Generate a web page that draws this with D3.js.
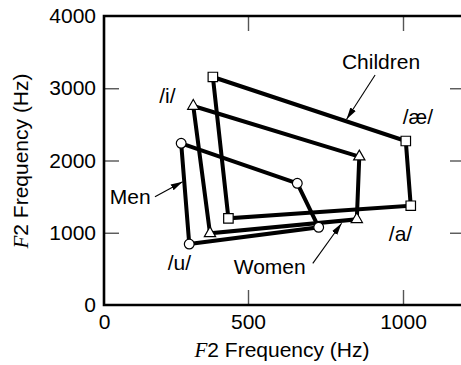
<!DOCTYPE html>
<html>
<head>
<meta charset="utf-8">
<script src="https://cdn.jsdelivr.net/npm/d3@7"></script>
<style>
  body { margin: 0; background: #fff; }
  svg { display: block; }
  text { font-family: "Liberation Sans", Arial, Helvetica, sans-serif; fill: #000; }
</style>
</head>
<body>
<div id="chart"></div>
<script>
// vowel order around each quadrilateral: /i/ -> /æ/ -> /a/ -> /u/
var vowels = ["i", "æ", "a", "u"];

// x values (as labelled on the horizontal axis) and F2 values
var childrenX = [378, 1009, 1025, 432];
var childrenY = [3156, 2270, 1374, 1200];
var womenX = [310, 859, 851, 368];
var womenY = [2754, 2053, 1186, 992];
var menX = [268, 659, 728, 296];
var menY = [2238, 1684, 1075, 844];

var xTicks = [0, 500, 1000];
var yTicks = [0, 1000, 2000, 3000, 4000];

// vowel labels, in data units
var vowelLabels = [
    { text: "/i/", x: 220, y: 2800 },
    { text: "/æ/", x: 1048, y: 2505 },
    { text: "/a/", x: 992, y: 890 },
    { text: "/u/", x: 262, y: 484 }
];

// group labels with their arrows, in data units
var groupLabels = [
    { text: "Children", x: 929, y: 3266, x1: 910, y1: 3183, x2: 818, y2: 2570 },
    { text: "Men", x: 91, y: 1398, x1: 177, y1: 1499, x2: 273, y2: 1707 },
    { text: "Women", x: 570, y: 425, x1: 709, y1: 577, x2: 802, y2: 1131 }
];

var width = 461, height = 365;
var plotLeft = 104, plotTop = 16, plotBottom = 305;

var svg = d3.select("#chart")
    .append("svg")
    .attr("width", width)
    .attr("height", height);

// the printed axis is not evenly spaced, so use a polylinear scale
var x = d3.scaleLinear()
    .domain([0, 500, 1200])
    .range([plotLeft, 248, 465]);

var y = d3.scaleLinear()
    .domain([0, 4000])
    .range([plotBottom, plotTop]);

var defs = svg.append("defs");
defs.append("marker")
    .attr("id", "head")
    .attr("viewBox", "0 0 12 8")
    .attr("refX", 12)
    .attr("refY", 4)
    .attr("markerWidth", 12)
    .attr("markerHeight", 8)
    .attr("markerUnits", "userSpaceOnUse")
    .attr("orient", "auto")
    .append("path")
    .attr("d", "M0,0.8 L12,4 L0,7.2 Z")
    .attr("fill", "#000");

// tick marks (inward)
var tickColor = "#555";
var fmt = d3.format("d");
var xAxisB = svg.append("g")
    .attr("transform", "translate(0," + plotBottom + ")")
    .call(d3.axisBottom(x).tickValues(xTicks).tickSizeInner(-15).tickSizeOuter(0).tickPadding(9).tickFormat(fmt));
var xAxisT = svg.append("g")
    .attr("transform", "translate(0," + plotTop + ")")
    .call(d3.axisTop(x).tickValues([500, 1000]).tickSizeInner(-15).tickSizeOuter(0).tickFormat(""));
var yAxisL = svg.append("g")
    .attr("transform", "translate(" + plotLeft + ",0)")
    .call(d3.axisLeft(y).tickValues(yTicks).tickSizeInner(-15).tickSizeOuter(0).tickPadding(8).tickFormat(fmt));
var yAxisR = svg.append("g")
    .attr("transform", "translate(" + x(1200) + ",0)")
    .call(d3.axisRight(y).tickValues([1000, 2000, 3000]).tickSizeInner(-15).tickSizeOuter(0).tickFormat(""));

[xAxisB, xAxisT, yAxisL, yAxisR].forEach(function (g) {
    g.select(".domain").remove();
    g.selectAll(".tick line").attr("stroke", tickColor).attr("stroke-width", 1.4);
    g.selectAll(".tick text")
        .attr("font-size", 21)
        .attr("font-family", "Liberation Sans, Arial, sans-serif")
        .attr("fill", "#000");
});
// no tick marks on the 0 positions
xAxisB.selectAll(".tick").filter(function (d) { return d === 0; }).select("line").remove();
yAxisL.selectAll(".tick").filter(function (d) { return d === 0 || d === 4000; }).select("line").remove();

// frame: left, bottom, top
svg.append("path")
    .attr("d", "M" + x(1200) + "," + y(4000) + "H" + x(0) + "V" + y(0) + "H" + x(1200))
    .attr("fill", "none")
    .attr("stroke", "#000")
    .attr("stroke-width", 2.6);

var groups = [
    { name: "Children", xs: childrenX, ys: childrenY, shape: d3.symbolSquare, size: 90 },
    { name: "Women", xs: womenX, ys: womenY, shape: d3.symbolTriangle, size: 55 },
    { name: "Men", xs: menX, ys: menY, shape: d3.symbolCircle, size: 75 }
];

var line = d3.line()
    .x(function (d) { return x(d.x); })
    .y(function (d) { return y(d.y); })
    .curve(d3.curveLinearClosed);

groups.forEach(function (g) {
    g.points = vowels.map(function (v, i) {
        return { vowel: v, x: g.xs[i], y: g.ys[i] };
    });
});

svg.selectAll(".quad")
    .data(groups)
    .enter()
    .append("path")
    .attr("class", "quad")
    .attr("d", function (g) { return line(g.points); })
    .attr("fill", "none")
    .attr("stroke", "#000")
    .attr("stroke-width", 4)
    .attr("stroke-linejoin", "miter");

groups.forEach(function (g) {
    svg.selectAll(null)
        .data(g.points)
        .enter()
        .append("path")
        .attr("transform", function (d) { return "translate(" + x(d.x) + "," + y(d.y) + ")"; })
        .attr("d", d3.symbol().type(g.shape).size(g.size))
        .attr("fill", "#fff")
        .attr("stroke", "#000")
        .attr("stroke-width", 1.2);
});

svg.selectAll(".vlabel")
    .data(vowelLabels)
    .enter()
    .append("text")
    .attr("class", "vlabel")
    .attr("x", function (d) { return x(d.x); })
    .attr("y", function (d) { return y(d.y); })
    .attr("text-anchor", "middle")
    .attr("font-size", 21)
    .text(function (d) { return d.text; });

svg.selectAll(".glabel")
    .data(groupLabels)
    .enter()
    .append("text")
    .attr("class", "glabel")
    .attr("x", function (d) { return x(d.x); })
    .attr("y", function (d) { return y(d.y); })
    .attr("text-anchor", "middle")
    .attr("font-size", 21)
    .text(function (d) { return d.text; });

svg.selectAll(".arrow")
    .data(groupLabels)
    .enter()
    .append("line")
    .attr("class", "arrow")
    .attr("x1", function (d) { return x(d.x1); })
    .attr("y1", function (d) { return y(d.y1); })
    .attr("x2", function (d) { return x(d.x2); })
    .attr("y2", function (d) { return y(d.y2); })
    .attr("stroke", "#000")
    .attr("stroke-width", 1.1)
    .attr("marker-end", "url(#head)");

// axis titles
var xt = svg.append("text")
    .attr("x", 282)
    .attr("y", 357)
    .attr("text-anchor", "middle")
    .attr("font-size", 21);
xt.append("tspan").attr("font-family", "Liberation Serif, Times New Roman, serif").attr("font-style", "italic").text("F");
xt.append("tspan").text("2 Frequency (Hz)");

var yt = svg.append("text")
    .attr("transform", "translate(28,161) rotate(-90)")
    .attr("text-anchor", "middle")
    .attr("font-size", 21);
yt.append("tspan").attr("font-family", "Liberation Serif, Times New Roman, serif").attr("font-style", "italic").text("F");
yt.append("tspan").text("2 Frequency (Hz)");
</script>
</body>
</html>
